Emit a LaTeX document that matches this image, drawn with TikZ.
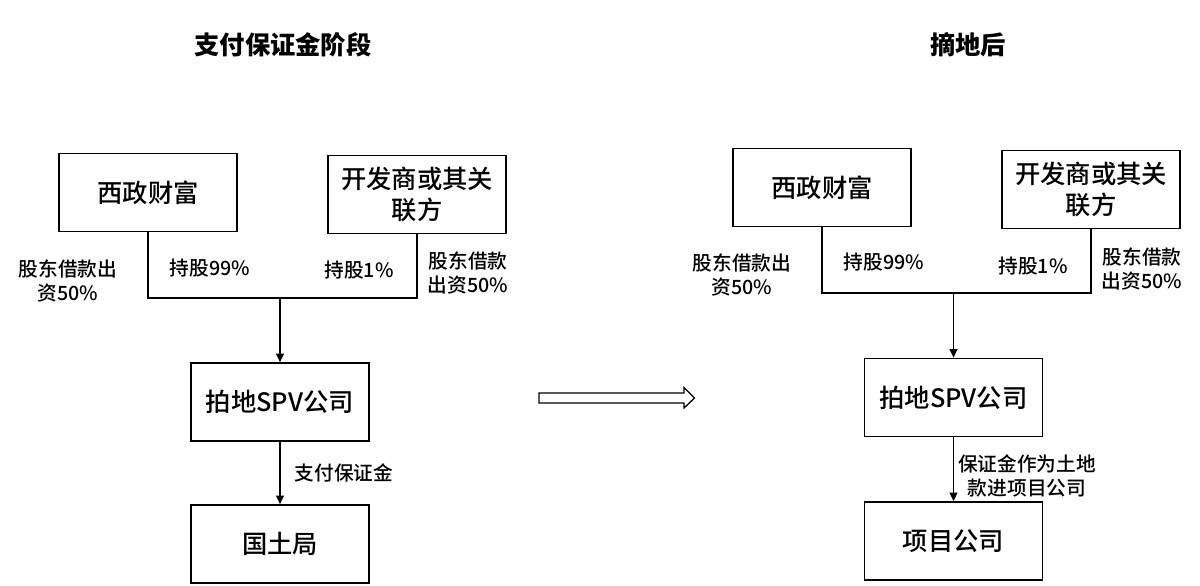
\documentclass[tikz,border=0pt]{standalone}
\usepackage{fontspec}
\setmainfont{Noto Sans CJK SC}
\newfontfamily\midweight{Noto Sans CJK SC Medium}
\usetikzlibrary{positioning, arrows.meta}

\begin{document}
\begin{tikzpicture}[
    x=0.025cm, y=-0.025cm,
    orgbox/.style={draw, line width=1.2pt, minimum width=4.45cm,
        minimum height=1.95cm, align=center,
        font=\fontsize{18}{21.5}\selectfont\midweight},
    tag/.style={align=center, inner sep=1pt,
        font=\fontsize{14}{17}\selectfont\midweight},
    heading/.style={font=\fontsize{18}{21}\selectfont\bfseries},
    link/.style={line width=0.9pt},
    flow/.style={line width=0.9pt, -{Triangle[length=6pt,width=5.5pt]}}
]
    \useasboundingbox (0,0) rectangle (1200,585);

    % before: paying the deposit
    \node[heading] (titleL) at (283,45) {支付保证金阶段};
    \node[orgbox] (wealthL) at (148,192.5) {西政财富};
    \node[orgbox] (devL) at (417,194.5) {开发商或其关\\联方};
    \node[orgbox] (spvL) at (280,402) {拍地SPV公司};
    \node[orgbox] (landL) at (280,544) {国土局};
    \coordinate (juncL) at (280,298);

    \draw[link] (wealthL.south) |- (juncL) -| (devL.south);
    \draw[flow] (juncL) -- (spvL.north);
    \draw[flow] (spvL.south) -- (landL.north);

    \node[tag] (lendL1) at (68,281) {股东借款出\\资50\%};
    \node[tag] (holdL1) at (210,268) {持股99\%};
    \node[tag] (holdL2) at (359,270) {持股1\%};
    \node[tag] (lendL2) at (468,273) {股东借款\\出资50\%};
    \node[tag] (payL) at (344,473) {支付保证金};

    % transition
    \draw[line width=0.9pt] (539,393) -- (684,393) -- (684,387.5) -- (694.5,398)
        -- (684,408) -- (684,403) -- (539,403) -- cycle;

    % after: land acquired
    \node[heading] (titleR) at (968,45) {摘地后};
    \node[orgbox] (wealthR) at (822,187.5) {西政财富};
    \node[orgbox] (devR) at (1091,189.5) {开发商或其关\\联方};
    \node[orgbox] (spvR) at (953.5,397.5) {拍地SPV公司};
    \node[orgbox] (projR) at (953.5,541) {项目公司};
    \coordinate (juncR) at (953.5,293);

    \draw[link] (wealthR.south) |- (juncR) -| (devR.south);
    \draw[flow] (juncR) -- (spvR.north);
    \draw[flow] (spvR.south) -- (projR.north);

    \node[tag] (lendR1) at (742,275) {股东借款出\\资50\%};
    \node[tag] (holdR1) at (884,262) {持股99\%};
    \node[tag] (holdR2) at (1033,266) {持股1\%};
    \node[tag] (lendR2) at (1142,269) {股东借款\\出资50\%};
    \node[tag] (moveR) at (1027,476) {保证金作为土地\\款进项目公司};
\end{tikzpicture}
\end{document}
